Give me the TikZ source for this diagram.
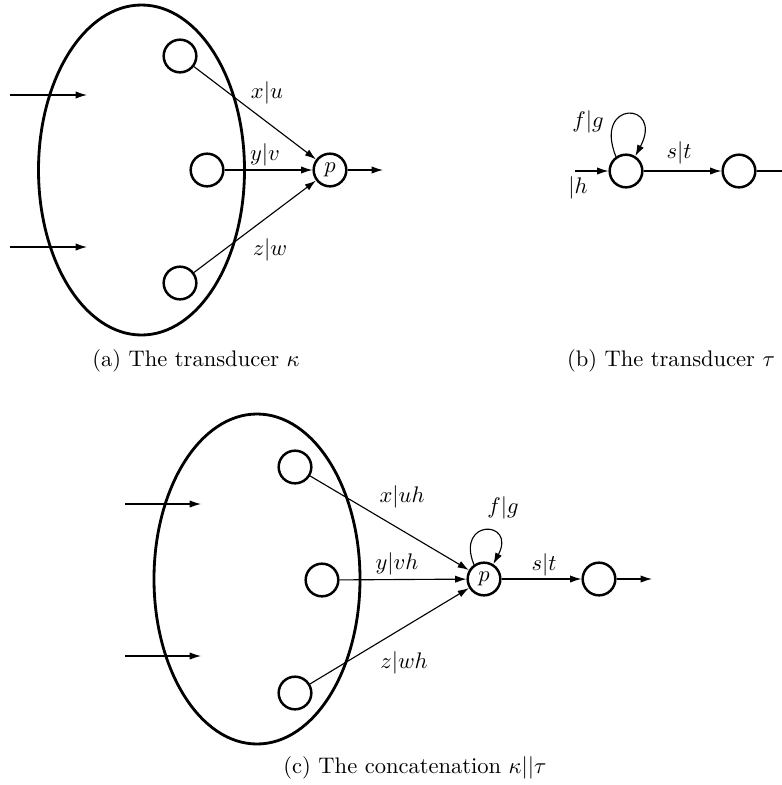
\documentclass[tikz,border=0pt]{standalone}
\usetikzlibrary{arrows.meta}
\begin{document}
\begin{tikzpicture}[x=0.444pt,y=-0.444pt,
  st/.style={circle,draw,line width=1.1pt,minimum size=14.5pt,inner sep=0pt},
  big/.style={draw,line width=1.25pt},
  tr/.style={line width=0.5pt,-{Latex[length=5pt,width=3.2pt]}},
  lab/.style={inner sep=1pt}]
\clip (0,0) rectangle (782,785);
% ---------- (a) ----------
\draw[big] (141.5,170) ellipse [x radius=103,y radius=165];
\node[st] (a1) at (180,56) {};
\node[st] (a2) at (207,170) {};
\node[st] (a3) at (180,283) {};
\node[st] (ap) at (330,170) {$p$};
\coordinate (ain1) at (10,95);
\coordinate (ain1e) at (87,95);
\coordinate (ain2) at (10,247);
\coordinate (ain2e) at (87,247);
\coordinate (aout) at (383,170);
\draw[tr] (ain1) -- (ain1e);
\draw[tr] (ain2) -- (ain2e);
\draw[tr] (a1) -- (ap);
\draw[tr] (a2) -- (ap);
\draw[tr] (a3) -- (ap);
\draw[tr] (ap) -- (aout);
\node[lab] (lxu) at (267,93) {$x|u$};
\node[lab] (lyv) at (265,155) {$y|v$};
\node[lab] (lzw) at (270,250) {$z|w$};
\node (capa) at (196,361) {(a) The transducer $\kappa$};
% ---------- (b) ----------
\node[st] (b1) at (626,171) {};
\node[st] (b2) at (739,171) {};
\coordinate (bin) at (575,171);
\coordinate (bout) at (800,171);
\draw[tr] (bin) -- (b1);
\draw[tr] (b1) -- (b2);
\draw[tr] (b2) -- (bout);
\draw[tr] (b1.125) .. controls +(-112:62) and +(-62:62) .. (b1.58);
\node[lab] (lfg) at (588,122) {$f|g$};
\node[lab] (lh) at (578,188) {$|h$};
\node[lab] (lst) at (679,153) {$s|t$};
\node (capb) at (671,361) {(b) The transducer $\tau$};
% ---------- (c) ----------
\draw[big] (257,579) ellipse [x radius=103,y radius=165];
\node[st] (c1) at (295,467) {};
\node[st] (c2) at (322,580) {};
\node[st] (c3) at (295,693) {};
\node[st] (cp) at (484,579) {$p$};
\node[st] (cq) at (599,579) {};
\coordinate (cin1) at (125,504);
\coordinate (cin1e) at (201,504);
\coordinate (cin2) at (125,656);
\coordinate (cin2e) at (201,656);
\coordinate (cout) at (652,579);
\draw[tr] (cin1) -- (cin1e);
\draw[tr] (cin2) -- (cin2e);
\draw[tr] (c1) -- (cp);
\draw[tr] (c2) -- (cp);
\draw[tr] (c3) -- (cp);
\draw[tr] (cp) -- (cq);
\draw[tr] (cq) -- (cout);
\draw[tr] (cp.125) .. controls +(-112:50) and +(-62:50) .. (cp.58);
\node[lab] (lxuh) at (402,497) {$x|uh$};
\node[lab] (lyvh) at (397,564) {$y|vh$};
\node[lab] (lzwh) at (404,663) {$z|wh$};
\node[lab] (lfg2) at (503,508) {$f|g$};
\node[lab] (lst2) at (544,565) {$s|t$};
\node (capc) at (415,768) {(c) The concatenation $\kappa||\tau$};
\end{tikzpicture}
\end{document}
